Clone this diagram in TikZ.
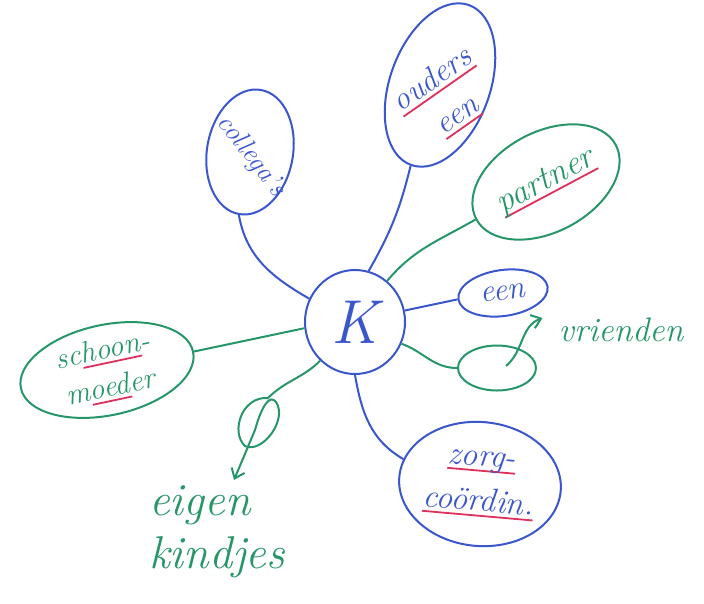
\documentclass[tikz,border=0pt]{standalone}
\usepackage{fontspec}
\usepackage{xcolor}
\usetikzlibrary{shapes.geometric,arrows.meta}
\definecolor{penblue}{RGB}{58,86,204}
\definecolor{pengreen}{RGB}{38,150,104}
\definecolor{penred}{RGB}{222,48,92}
\newcommand\redul[1]{\begingroup\setbox0\hbox{#1}\rlap{\color{penred}\rule[-0.4ex]{\wd0}{1.8pt}}\box0\endgroup}
\tikzset{
	bluepen/.style={draw=penblue, text=penblue, line width=2pt},
	greenpen/.style={draw=pengreen, text=pengreen, line width=2pt},
	bubble/.style={ellipse, inner sep=0pt},
	ink/.style 2 args={font=\fontsize{#1}{#2}\selectfont\itshape, inner sep=0pt}
}

\begin{document}
\begin{tikzpicture}[x=1pt, y=-1pt]
	\useasboundingbox (0,0) rectangle (704,603);

	% centre
	\node[bubble, bluepen, minimum width=100pt, minimum height=104pt, ink={62}{62}] (ik) at (355,322) {K};

	% bubbles
	\node[bubble, bluepen, rotate=-20, minimum width=100pt, minimum height=170pt] (ouders) at (440,85) {};
	\node[ink={32}{43}, text=penblue, rotate=35, align=center] (oudersTxt) at (445,98) {\redul{ouders}\\\redul{een}};
	\node[bubble, bluepen, rotate=-10, minimum width=86pt, minimum height=126pt] (colleg) at (250,152) {};
	\node[ink={27}{27}, text=penblue, rotate=-52] (collegTxt) at (251,156) {collega's};
	\node[bubble, greenpen, rotate=28, minimum width=158pt, minimum height=100pt, ink={34}{34}] (partner) at (546,182) {\redul{partner}};
	\node[bubble, bluepen, rotate=8, minimum width=90pt, minimum height=46pt, ink={32}{32}] (een) at (503,293) {een};
	\node[bubble, greenpen, minimum width=78pt, minimum height=45pt] (vrOval) at (497,368) {};
	\node[ink={34}{34}, text=pengreen] (vrienden) at (621,330) {vrienden};
	\node[bubble, greenpen, rotate=12, minimum width=176pt, minimum height=90pt, ink={30}{38}, align=center] (schoon) at (107,370) {sc\redul{hoon}-\\m\redul{oed}er};
	\node[bubble, bluepen, rotate=-5, minimum width=162pt, minimum height=124pt, ink={33}{45}, align=center] (zorg) at (480,484) {\redul{zorg-}\\\redul{coördin.}};
	\node[ink={46}{53}, text=pengreen, align=left, anchor=north west] (kindjes) at (149,485) {eigen\\kindjes};

	\coordinate (vrStart) at (506,366);
	\coordinate (kLoop) at (268,398);
	\coordinate (kTip) at (234,480);

	% connectors
	\draw[bluepen] (ik.75) to[bend right=8] (ouders.south);
	\draw[bluepen] (ik.153) to[out=150,in=-80] (colleg.south);
	\draw[greenpen] (ik.52) to[out=50,in=210] (partner.west);
	\draw[bluepen] (ik.13) -- (een.west);
	\draw[greenpen] (ik.-25) to[out=-20,in=180] (vrOval.west);
	\draw[greenpen] (ik.187) -- (schoon.east);
	\draw[bluepen] (ik.south) to[out=-80,in=150] (zorg.167);
	\draw[greenpen, -{Straight Barb[length=9pt,width=14pt]}] (vrStart) to[out=40,in=200] ([xshift=-16pt,yshift=12pt]vrienden.west);
	\draw[greenpen, -{Straight Barb[length=9pt,width=14pt]}] (ik.228) to[out=225,in=45] (kLoop)
		.. controls (242,396) and (230,432) .. (245,446)
		.. controls (262,454) and (288,420) .. (276,402)
		.. controls (270,394) and (262,405) .. (255,430) -- (kTip);
\end{tikzpicture}
\end{document}
